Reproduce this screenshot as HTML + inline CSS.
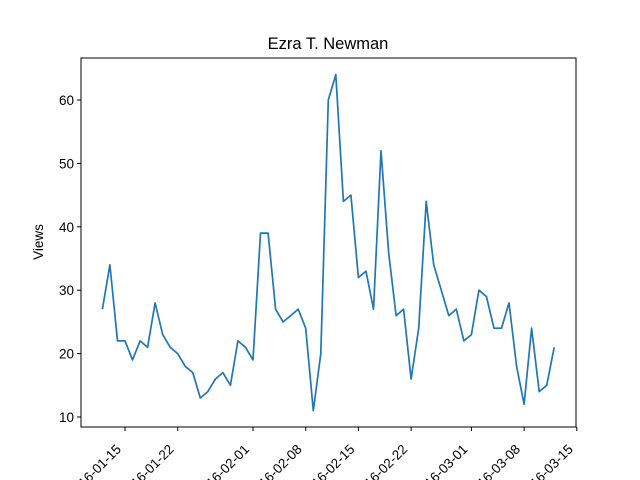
<!DOCTYPE html>
<html><head><meta charset="utf-8"><style>
body{margin:0;background:#fff}
svg{display:block;font-family:"Liberation Sans","DejaVu Sans",sans-serif}
</style></head><body>
<svg id="chart" width="640" height="480" viewBox="0 0 640 480">
<rect width="640" height="480" fill="#fff"/>
<text x="328" y="49" text-anchor="middle" font-size="16.5">Ezra T. Newman</text>
<text transform="translate(43,242) rotate(-90)" text-anchor="middle" font-size="13.5">Views</text>
<g id="marks"></g>
<rect x="81" y="58" width="495" height="369" fill="none" stroke="#000" stroke-width="1"/>
</svg>
<script>
const startDate = "2016-01-12";
const views = [27,34,22,22,19,22,21,28,23,21,20,18,17,13,14,16,17,15,22,21,19,39,39,27,25,26,27,24,11,20,60,
64,44,45,32,33,27,52,36,26,27,16,24,44,34,30,26,27,22,23,30,29,24,24,28,18,12,24,14,15,21];
const yTicks = [10,20,30,40,50,60];
const xTickLabels = ["2016-01-15","2016-01-22","2016-02-01","2016-02-08","2016-02-15","2016-02-22","2016-03-01","2016-03-08","2016-03-15"];

const NS="http://www.w3.org/2000/svg";
const g=document.getElementById('marks');
const DAY=86400000;
const t0=Date.parse("2016-01-15T00:00:00Z");
function xScale(ms){return 125+(ms-t0)/DAY*7.53;}
function yScale(v){return 417-(v-10)*6.34;}
const s0=Date.parse(startDate+"T00:00:00Z");

yTicks.forEach(v=>{
  const y=yScale(v);
  const l=document.createElementNS(NS,'line');
  l.setAttribute('x1',77);l.setAttribute('x2',81);l.setAttribute('y1',y);l.setAttribute('y2',y);l.setAttribute('stroke','#000');
  
  
  g.appendChild(l);
  const t=document.createElementNS(NS,'text');
  t.setAttribute('x',74);t.setAttribute('y',y+5);t.setAttribute('text-anchor','end');t.setAttribute('font-size','13.5');
  t.textContent=v;
  
  
  g.appendChild(t);
});
xTickLabels.forEach(d=>{
  const x=xScale(Date.parse(d+"T00:00:00Z"));
  const l=document.createElementNS(NS,'line');
  l.setAttribute('x1',x);l.setAttribute('x2',x);l.setAttribute('y1',427);l.setAttribute('y2',431);l.setAttribute('stroke','#000');
  
  
  g.appendChild(l);
  const t=document.createElementNS(NS,'text');
  t.setAttribute('transform','translate('+(x-3)+',450) rotate(-45)');
  t.setAttribute('text-anchor','end');t.setAttribute('font-size','13.5');
  t.textContent=d;
  
  
  g.appendChild(t);
});
const pts=views.map((v,i)=>xScale(s0+i*DAY).toFixed(1)+','+yScale(v).toFixed(1)).join(' ');
const pl=document.createElementNS(NS,'polyline');
pl.setAttribute('points',pts);pl.setAttribute('fill','none');pl.setAttribute('stroke','#1f77b4');pl.setAttribute('stroke-width','1.7');pl.setAttribute('stroke-linejoin','round');


g.appendChild(pl);
</script>
</body></html>
